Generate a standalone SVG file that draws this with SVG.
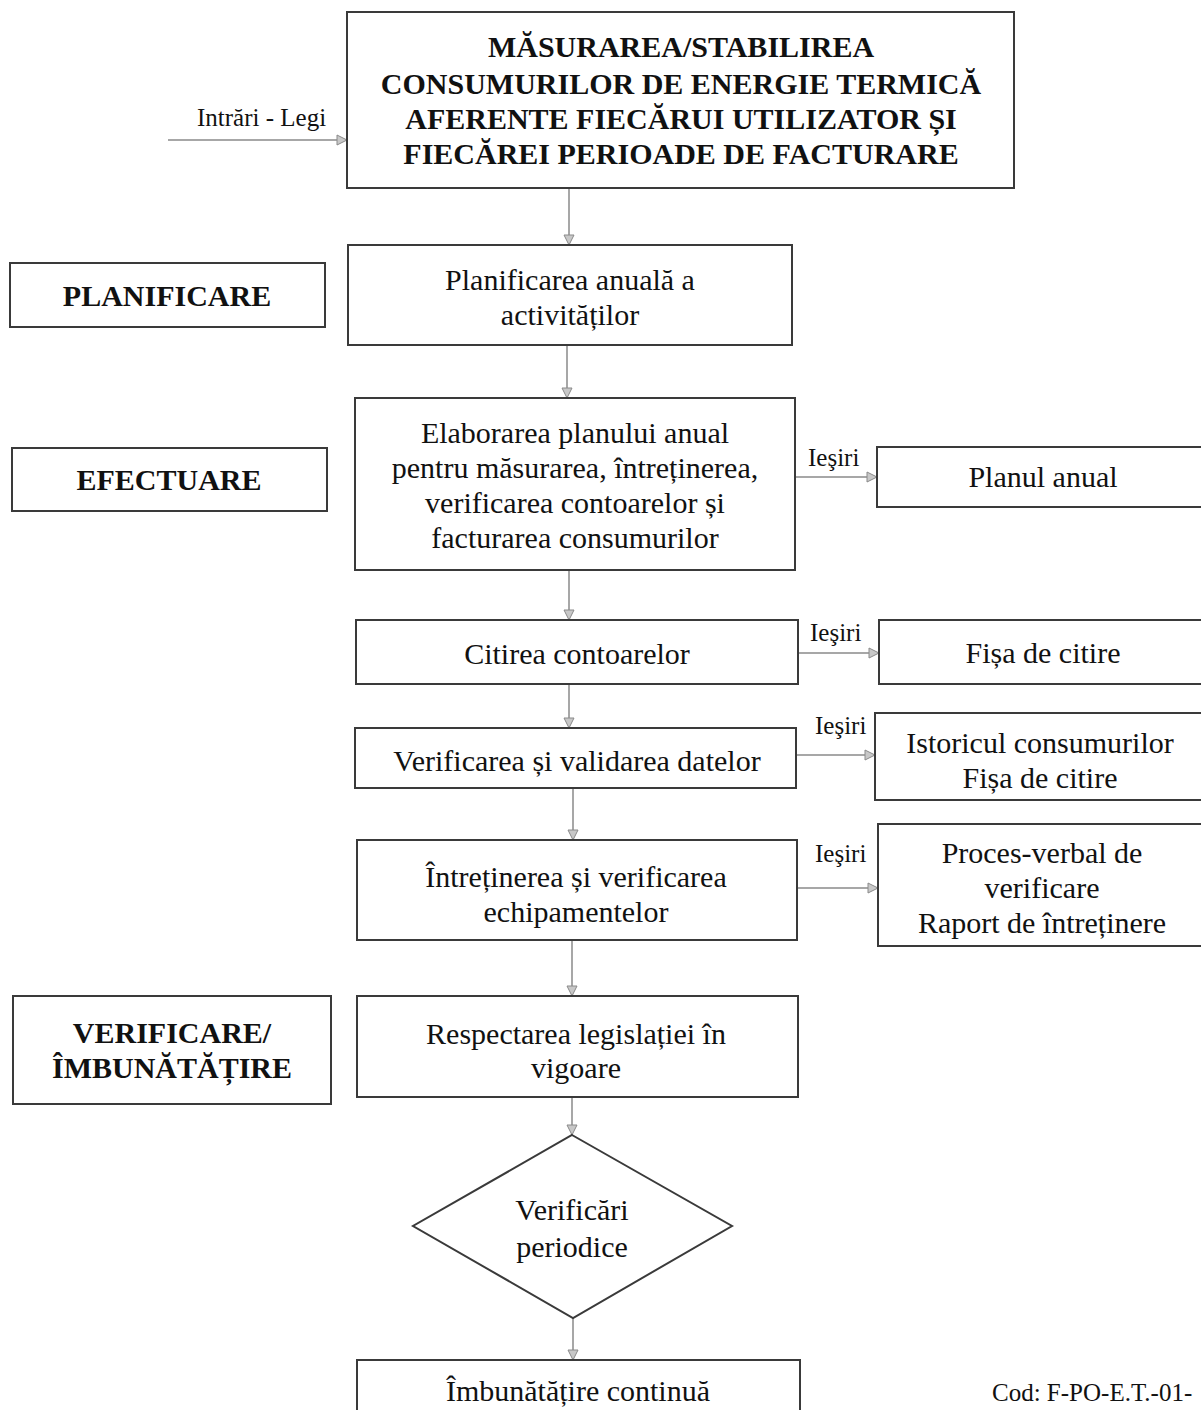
<svg xmlns="http://www.w3.org/2000/svg" width="1201" height="1410" viewBox="0 0 1201 1410">
<defs>
<marker id="arr" markerWidth="12" markerHeight="12" refX="11" refY="6" orient="auto" markerUnits="userSpaceOnUse">
<path d="M1,1 L11,6 L1,11 Z" fill="#c8c8c8" stroke="#8a8a8a" stroke-width="1"/>
</marker>
<style>
.box{fill:#fff;stroke:#3a3a3a;stroke-width:2}
.t{font-family:"Liberation Serif","Times New Roman",serif;font-size:30px;fill:#111;text-anchor:middle}
.tb{font-family:"Liberation Serif","Times New Roman",serif;font-size:30px;font-weight:bold;fill:#111;text-anchor:middle}
.s{font-family:"Liberation Serif","Times New Roman",serif;font-size:25px;fill:#111}
.c{fill:none;stroke:#8a8a8a;stroke-width:1.5;marker-end:url(#arr)}
</style>
</defs>
<rect width="1201" height="1410" fill="#fff"/>
<g id="connectors">
<line class="c" x1="168" y1="140" x2="347" y2="140"/>
<line class="c" x1="569" y1="188" x2="569" y2="245"/>
<line class="c" x1="567" y1="345" x2="567" y2="398"/>
<line class="c" x1="795" y1="477" x2="877" y2="477"/>
<line class="c" x1="569" y1="570" x2="569" y2="620"/>
<line class="c" x1="798" y1="653" x2="879" y2="653"/>
<line class="c" x1="569" y1="684" x2="569" y2="728"/>
<line class="c" x1="796" y1="755" x2="875" y2="755"/>
<line class="c" x1="573" y1="788" x2="573" y2="840"/>
<line class="c" x1="797" y1="888" x2="878" y2="888"/>
<line class="c" x1="572" y1="940" x2="572" y2="996"/>
<line class="c" x1="572" y1="1097" x2="572" y2="1135"/>
<line class="c" x1="573" y1="1318" x2="573" y2="1360"/>
<text class="s" x="197" y="126">Intrări - Legi</text>
<text class="s" x="808" y="466">Ieşiri</text>
<text class="s" x="810" y="641">Ieşiri</text>
<text class="s" x="815" y="734">Ieşiri</text>
<text class="s" x="815" y="862">Ieşiri</text>
</g>
<g id="n-title">
<rect class="box" x="347" y="12" width="667" height="176"/>
<text class="tb" x="681" y="57">MĂSURAREA/STABILIREA</text>
<text class="tb" x="681" y="94">CONSUMURILOR DE ENERGIE TERMICĂ</text>
<text class="tb" x="681" y="129">AFERENTE FIECĂRUI UTILIZATOR ȘI</text>
<text class="tb" x="681" y="164">FIECĂREI PERIOADE DE FACTURARE</text>
</g>
<g id="n-planificare-label">
<rect class="box" x="10" y="263" width="315" height="64"/>
<text class="tb" x="167" y="306">PLANIFICARE</text>
</g>
<g id="n-planificarea">
<rect class="box" x="348" y="245" width="444" height="100"/>
<text class="t" x="570" y="290">Planificarea anuală a</text>
<text class="t" x="570" y="325">activităților</text>
</g>
<g id="n-efectuare-label">
<rect class="box" x="12" y="448" width="315" height="63"/>
<text class="tb" x="169" y="490">EFECTUARE</text>
</g>
<g id="n-elaborarea">
<rect class="box" x="355" y="398" width="440" height="172"/>
<text class="t" x="575" y="443">Elaborarea planului anual</text>
<text class="t" x="575" y="478">pentru măsurarea, întreținerea,</text>
<text class="t" x="575" y="513">verificarea contoarelor și</text>
<text class="t" x="575" y="548">facturarea consumurilor</text>
</g>
<g id="n-planul">
<rect class="box" x="877" y="447" width="330" height="60"/>
<text class="t" x="1043" y="487">Planul anual</text>
</g>
<g id="n-citirea">
<rect class="box" x="356" y="620" width="442" height="64"/>
<text class="t" x="577" y="664">Citirea contoarelor</text>
</g>
<g id="n-fisa">
<rect class="box" x="879" y="620" width="328" height="64"/>
<text class="t" x="1043" y="663">Fișa de citire</text>
</g>
<g id="n-verificarea">
<rect class="box" x="355" y="728" width="441" height="60"/>
<text class="t" x="577" y="771">Verificarea și validarea datelor</text>
</g>
<g id="n-istoricul">
<rect class="box" x="875" y="713" width="332" height="87"/>
<text class="t" x="1040" y="753">Istoricul consumurilor</text>
<text class="t" x="1040" y="788">Fișa de citire</text>
</g>
<g id="n-intretinerea">
<rect class="box" x="357" y="840" width="440" height="100"/>
<text class="t" x="576" y="887">Întreținerea și verificarea</text>
<text class="t" x="576" y="922">echipamentelor</text>
</g>
<g id="n-proces">
<rect class="box" x="878" y="824" width="329" height="122"/>
<text class="t" x="1042" y="863">Proces-verbal de</text>
<text class="t" x="1042" y="898">verificare</text>
<text class="t" x="1042" y="933">Raport de întreținere</text>
</g>
<g id="n-verificare-label">
<rect class="box" x="13" y="996" width="318" height="108"/>
<text class="tb" x="172" y="1043">VERIFICARE/</text>
<text class="tb" x="172" y="1078">ÎMBUNĂTĂȚIRE</text>
</g>
<g id="n-respectarea">
<rect class="box" x="357" y="996" width="441" height="101"/>
<text class="t" x="576" y="1044">Respectarea legislației în</text>
<text class="t" x="576" y="1078">vigoare</text>
</g>
<g id="n-verificari">
<polygon class="box" points="572,1135 732,1226 573,1318 413,1226"/>
<text class="t" x="572" y="1220">Verificări</text>
<text class="t" x="572" y="1257">periodice</text>
</g>
<g id="n-imbunatatire">
<rect class="box" x="357" y="1360" width="443" height="60"/>
<text class="t" x="578" y="1401">Îmbunătățire continuă</text>
</g>
<text class="s" x="992" y="1401">Cod: F-PO-E.T.-01-</text>
</svg>
